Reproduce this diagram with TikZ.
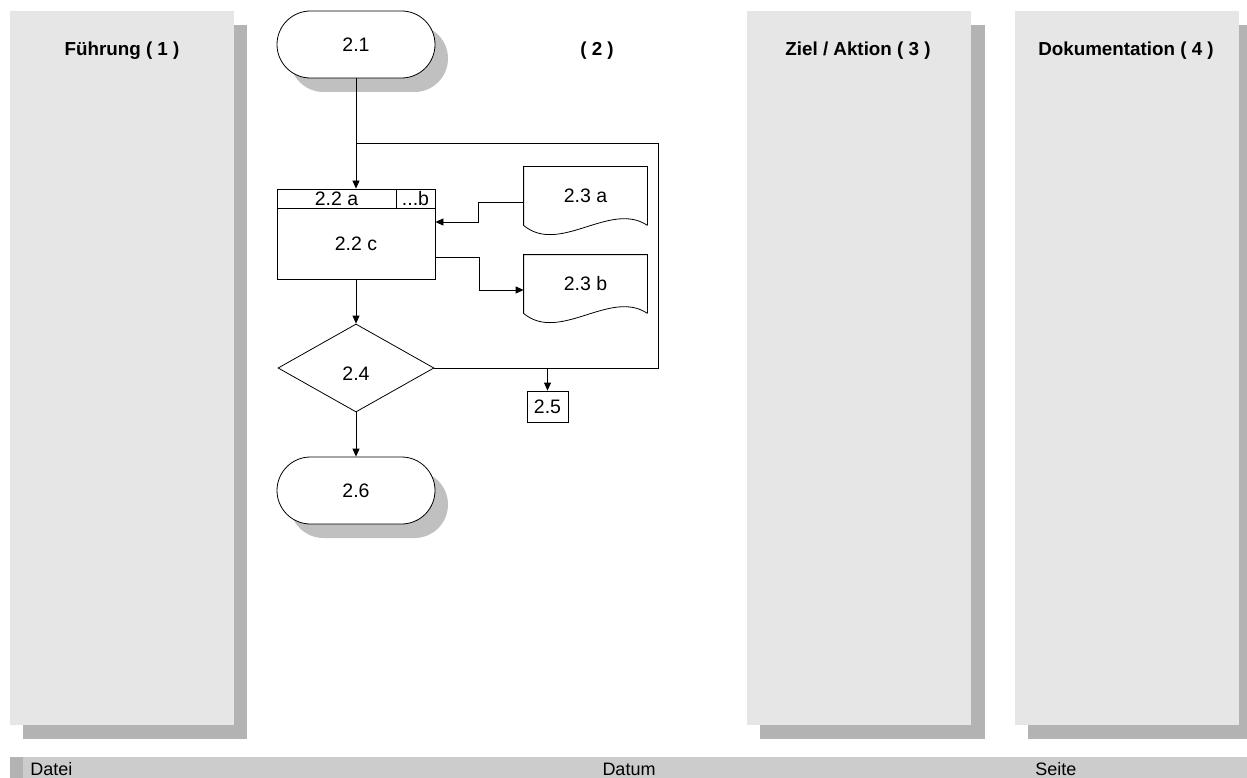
\documentclass[tikz,border=0pt]{standalone}
\usepackage{fontspec}
\setmainfont{Liberation Sans}
\usetikzlibrary{shapes.misc,shapes.geometric,arrows.meta,shadows}
\definecolor{panel}{HTML}{E6E6E6}
\definecolor{pshadow}{HTML}{B3B3B3}
\definecolor{nshadow}{HTML}{C0C0C0}
\definecolor{footer}{HTML}{CCCCCC}
\begin{document}
\begin{tikzpicture}[x=1pt,y=-1pt,
  font=\fontsize{19.5}{23}\selectfont,
  line width=0.8pt,
  arr/.style={-{Triangle[length=8pt,width=7pt]}},
  term/.style={rounded rectangle, draw, fill=white, minimum width=158pt, minimum height=67pt, inner sep=0pt,
    drop shadow={shadow xshift=13pt, shadow yshift=-14pt, fill=nshadow, opacity=1}},
  procbox/.style={rectangle, draw, fill=white, inner sep=0pt},
  docbox/.style={rectangle, inner sep=0pt, minimum width=123pt, minimum height=58pt},
  decision/.style={diamond, draw, fill=white, minimum width=156pt, minimum height=88pt, inner sep=0pt},
  title/.style={font=\fontsize{18.8}{22}\selectfont\bfseries, anchor=base, inner sep=0pt},
  foot/.style={font=\fontsize{18}{21}\selectfont, anchor=base, inner sep=0pt}
]
\useasboundingbox (0,0) rectangle (1247,778);

% panels
\fill[pshadow] (23,25) rectangle (247,739);
\fill[panel] (10,11) rectangle (234,725);
\fill[pshadow] (760,25) rectangle (985,739);
\fill[panel] (747,11) rectangle (971,725);
\fill[pshadow] (1028,25) rectangle (1247,739);
\fill[panel] (1015,11) rectangle (1239,725);

\node[title] (t1) at (122,56) {Führung ( 1 )};
\node[title] (t2) at (597,56) {( 2 )};
\node[title] (t3) at (858,56) {Ziel / Aktion ( 3 )};
\node[title] (t4) at (1126,56) {Dokumentation ( 4 )};

% footer
\fill[footer] (10,757) rectangle (1247,778);
\fill[pshadow] (10,757) rectangle (23,778);
\node[foot, anchor=base west] (f1) at (30,775) {Datei};
\node[foot] (f2) at (629,775) {Datum};
\node[foot, anchor=base west] (f3) at (1035,775) {Seite};

% flowchart nodes
\node[term] (n21) at (356,44.5) {2.1};
\node[procbox, minimum width=119pt, minimum height=19pt] (n22a) at (336.5,198.5) {2.2 a};
\node[procbox, minimum width=39pt, minimum height=19pt] (n22b) at (415.5,198.5) {...b};
\node[procbox, minimum width=158pt, minimum height=71pt] (n22) at (356,243.5) {2.2 c};

\node[docbox] (n23a) at (585.5,196) {2.3 a};
\draw (n23a.south east) -- (n23a.north east) -- (n23a.north west) -- (n23a.south west)
  .. controls ([shift={(36,30)}]n23a.south west) and ([shift={(-37,-25)}]n23a.south east) .. (n23a.south east);
\node[docbox] (n23b) at (585.5,284) {2.3 b};
\draw (n23b.south east) -- (n23b.north east) -- (n23b.north west) -- (n23b.south west)
  .. controls ([shift={(36,30)}]n23b.south west) and ([shift={(-37,-25)}]n23b.south east) .. (n23b.south east);

\node[decision] (n24) at (356,368) {};
\node[inner sep=0pt] (n24t) at (356,374) {2.4};
\node[procbox, minimum width=41pt, minimum height=31pt] (n25) at (547.5,406.5) {2.5};
\node[term] (n26) at (356,490.5) {2.6};

% connectors
\coordinate (loopR) at (658,368);
\coordinate (loopT) at (658,143);
\coordinate (join) at (356,143);
\coordinate (br) at (547.5,368);

\draw[arr] (n21.south) -- (n21.south |- n22a.north);
\draw (n24.east) -- (loopR) -- (loopT) -- (join);
\draw[arr] (br) -- (n25.north);
\draw[arr] ([yshift=-6pt]n23a.west) -- ++(-45,0) |- ([yshift=21.5pt]n22.east);
\draw[arr] ([yshift=-13.5pt]n22.east) -- ++(44,0) |- ([yshift=-6pt]n23b.west);
\draw[arr] (n22.south) -- (n24.north);
\draw[arr] (n24.south) -- (n26.north);
\end{tikzpicture}
\end{document}
